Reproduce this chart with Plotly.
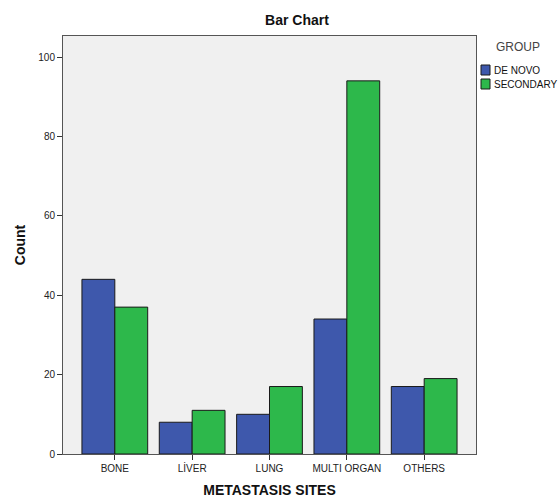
import plotly.graph_objects as go

categories = ["BONE", "LİVER", "LUNG", "MULTI ORGAN", "OTHERS"]
de_novo = [44, 8, 10, 34, 17]
secondary = [37, 11, 17, 94, 19]
y_ticks = [0, 20, 40, 60, 80, 100]
group_names = ["DE NOVO", "SECONDARY"]
group_colors = ["#3e58ac", "#2db84b"]

FONT = "Liberation Sans, Arial, sans-serif"

W, H = 560, 499
L, R, T, B = 63, 84, 36, 45
PW, PH = W - L - R, H - T - B


def px_x(px):
    return (px - L) / PW


def px_y(py):
    return (H - B - py) / PH


fig = go.Figure()
for name, vals, col in zip(group_names, [de_novo, secondary], group_colors):
    fig.add_trace(go.Bar(name=name, x=categories, y=vals,
                         marker=dict(color=col, line=dict(color="#1a1a1a", width=1))))

# manual legend (SPSS style, compact)
shapes = []
annotations = [dict(text="GROUP", x=px_x(518), y=px_y(47), xref="paper", yref="paper",
                    xanchor="center", yanchor="middle", showarrow=False,
                    font=dict(size=12, color="#444"))]
for i, (name, col) in enumerate(zip(group_names, group_colors)):
    top = 65 + 14 * i
    shapes.append(dict(type="rect", xref="paper", yref="paper",
                       x0=px_x(481), x1=px_x(490), y0=px_y(top + 10), y1=px_y(top),
                       fillcolor=col, line=dict(color="#1a1a1a", width=1)))
    annotations.append(dict(text=name, x=px_x(492), y=px_y(top + 5), xref="paper", yref="paper",
                            xanchor="left", yanchor="middle", showarrow=False,
                            font=dict(size=10, color="#111")))

fig.update_layout(
    width=W, height=H,
    margin=dict(l=L, r=R, t=T, b=B, autoexpand=False),
    paper_bgcolor="white",
    plot_bgcolor="#f0f0f0",
    barmode="group",
    bargap=0.15,
    bargroupgap=0,
    font=dict(family=FONT, size=10, color="#222"),
    title=dict(text="<b>Bar Chart</b>", x=297 / W, xanchor="center", y=1 - 20 / H, yanchor="middle",
               font=dict(size=14, color="#111")),
    showlegend=False,
    shapes=shapes,
    annotations=annotations,
    xaxis=dict(
        type="category",
        range=[-0.67, 4.67],
        showline=True, linecolor="#555", linewidth=1, mirror=True,
        ticks="outside", ticklen=5, tickcolor="#333",
        tickfont=dict(size=10, color="#222"),
        title=dict(text="<b>METASTASIS SITES</b>", font=dict(size=14, color="#111"), standoff=12),
        showgrid=False,
    ),
    yaxis=dict(
        range=[0, 105.3],
        tickvals=y_ticks,
        showline=True, linecolor="#555", linewidth=1, mirror=True,
        ticks="outside", ticklen=5, tickcolor="#333",
        tickfont=dict(size=10, color="#222"),
        title=dict(text="<b>Count</b>", font=dict(size=14, color="#111"), standoff=9),
        showgrid=False, zeroline=False,
    ),
)

fig.write_html("out.html", config={"displayModeBar": False},
               post_script="document.body.style.margin='0';document.body.style.overflow='hidden';")
